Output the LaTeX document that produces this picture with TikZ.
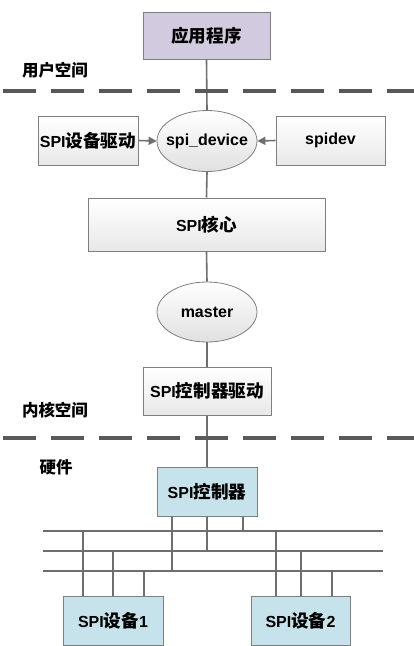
\documentclass[tikz,border=0pt]{standalone}
\usepackage{fontspec}
\setmainfont{Liberation Sans}
\newfontfamily\cjk[Scale=1.1]{Noto Sans CJK SC}
\newfontfamily\cjklbl{Noto Sans CJK SC}
\newcommand\zhtxt[1]{{\cjk #1}}
\usetikzlibrary{shapes.geometric,arrows.meta}
\definecolor{lineg}{HTML}{6E6E6E}
\definecolor{bordg}{HTML}{7F7F7F}
\definecolor{lav}{HTML}{D2CADE}
\definecolor{lblue}{HTML}{C6E2EA}
\tikzset{
  every node/.style={font=\fontsize{16}{18}\selectfont\bfseries},
  swbox/.style={draw=bordg, line width=1pt, rectangle, inner sep=0pt, top color=white, bottom color=black!9},
  appbox/.style={draw=bordg, line width=1pt, rectangle, inner sep=0pt, fill=lav},
  hwbox/.style={draw=bordg, line width=1pt, rectangle, inner sep=0pt, fill=lblue},
  ell/.style={draw=bordg, line width=0.8pt, ellipse, inner sep=0pt, top color=white, bottom color=black!12},
  conn/.style={draw=lineg, line width=1.6pt},
  arr/.style={draw=lineg, line width=1.6pt, -{Triangle[length=8pt,width=8pt]}},
  sep/.style={draw=black!65, line width=3.5pt, dash pattern=on 33pt off 15pt},
  lbl/.style={font=\fontsize{16.5}{18}\selectfont\bfseries\cjklbl}
}
\begin{document}
\begin{tikzpicture}[x=1pt,y=-1pt]
\useasboundingbox (0,0) rectangle (414,646);
% nodes
\node[appbox, minimum width=127pt, minimum height=47pt] (app) at (206.5,35.5) {\zhtxt{应用程序}};
\node[lbl] (user) at (55,70) {用户空间};
\node[swbox, minimum width=100pt, minimum height=49pt] (drv) at (88,140.5) {SPI\zhtxt{设备驱动}};
\node[ell, minimum width=100pt, minimum height=61pt] (dev) at (207,141) {\makebox[0pt]{spi\_device}};
\node[swbox, minimum width=109pt, minimum height=49pt] (spidev) at (330.5,140.5) {spidev};
\node[swbox, minimum width=237pt, minimum height=53pt] (core) at (206.5,224.5) {SPI\zhtxt{核心}};
\node[ell, minimum width=100pt, minimum height=60pt] (master) at (207,312) {\makebox[0pt]{master}};
\node[swbox, minimum width=128pt, minimum height=48pt] (cdrv) at (207,391) {SPI\zhtxt{控制器驱动}};
\node[lbl] (kern) at (55,410) {内核空间};
\node[lbl] (hw) at (56,467) {硬件};
\node[hwbox, minimum width=100pt, minimum height=49pt] (ctrl) at (207,491.5) {SPI\zhtxt{控制器}};
\node[hwbox, minimum width=100pt, minimum height=49pt] (dev1) at (113,620.5) {SPI\zhtxt{设备}1};
\node[hwbox, minimum width=99pt, minimum height=49pt] (dev2) at (300.5,620.5) {SPI\zhtxt{设备}2};
% bus coordinates
\coordinate (b1w) at (43,531); \coordinate (b1e) at (383,531);
\coordinate (b2w) at (43,551); \coordinate (b2e) at (383,551);
\coordinate (b3w) at (43,571); \coordinate (b3e) at (383,571);
\coordinate (sepAw) at (3,91); \coordinate (sepAe) at (414,91);
\coordinate (sepBw) at (3,438); \coordinate (sepBe) at (414,438);
% connectors
\draw[conn] (app.south) -- (dev.north);
\draw[conn] (dev.south) -- (core.north);
\draw[conn] (core.south) -- (master.north);
\draw[conn] (master.south) -- (cdrv.north);
\draw[conn] (cdrv.south) -- (ctrl.north);
\draw[arr] (drv.east) -- (dev.west);
\draw[arr] (spidev.west) -- (dev.east);
% separators
\draw[sep] (sepAw) -- (sepAe);
\draw[sep] (sepBw) -- (sepBe);
% bus
\draw[conn] (b1w) -- (b1e);
\draw[conn] (b2w) -- (b2e);
\draw[conn] (b3w) -- (b3e);
\draw[conn] (ctrl.south -| 172,0) -- (172,571);
\draw[conn] (ctrl.south) -- (207,551);
\draw[conn] (ctrl.south -| 243,0) -- (243,531);
\draw[conn] (83,531) -- (dev1.north -| 83,0);
\draw[conn] (113,551) -- (dev1.north);
\draw[conn] (144,571) -- (dev1.north -| 144,0);
\draw[conn] (276,531) -- (dev2.north -| 276,0);
\draw[conn] (301,551) -- (dev2.north -| 301,0);
\draw[conn] (332,571) -- (dev2.north -| 332,0);
\end{tikzpicture}
\end{document}
